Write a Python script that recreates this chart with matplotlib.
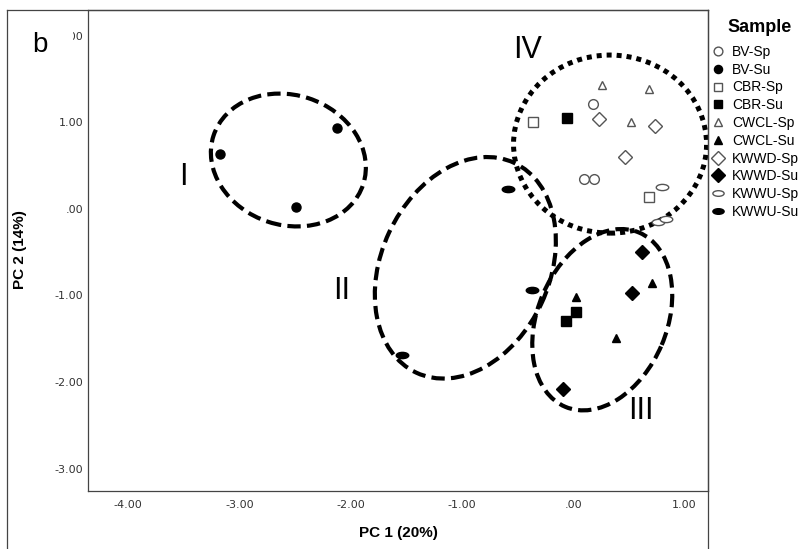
import matplotlib
matplotlib.use("Agg")
import matplotlib.pyplot as plt
from matplotlib.patches import Ellipse, Rectangle
from matplotlib.path import Path
from matplotlib.transforms import Affine2D
from matplotlib.lines import Line2D
from matplotlib.ticker import FixedLocator, FuncFormatter

plt.rcParams['font.family'] = ['Liberation Sans', 'DejaVu Sans']

# ---------------- data ----------------
bv_sp_x = [0.18, 0.10, 0.19]
bv_sp_y = [1.21, 0.35, 0.35]
bv_su_x = [-3.17, -2.12, -2.49]
bv_su_y = [0.635, 0.935, 0.02]
cbr_sp_x = [-0.36, 0.68]
cbr_sp_y = [1.00, 0.135]
cbr_su_x = [-0.06, 0.02, -0.07]
cbr_su_y = [1.05, -1.19, -1.29]
cwcl_sp_x = [0.26, 0.68, 0.52]
cwcl_sp_y = [1.43, 1.39, 1.00]
cwcl_su_x = [0.71, 0.02, 0.38]
cwcl_su_y = [-0.85, -1.02, -1.49]
kwwd_sp_x = [0.23, 0.73, 0.46]
kwwd_sp_y = [1.04, 0.96, 0.60]
kwwd_su_x = [0.62, 0.53, -0.09]
kwwd_su_y = [-0.50, -0.97, -2.08]
kwwu_sp_x = [0.80, 0.76, 0.83]
kwwu_sp_y = [0.25, -0.15, -0.12]
kwwu_su_x = [-0.59, -0.37, -1.54]
kwwu_su_y = [0.23, -0.94, -1.69]

x_ticks = [-4, -3, -2, -1, 0, 1]
y_ticks = [-3, -2, -1, 0, 1, 2]
x_lim = (-4.36, 1.21)
y_lim = (-3.26, 2.30)

# cluster ellipses: label, label position, centre, width, height, angle
cluster_labels = ['I', 'II', 'III', 'IV']
cluster_label_x = [-3.50, -2.08, 0.61, -0.41]
cluster_label_y = [0.37, -0.95, -2.33, 1.84]
cluster_cx = [-2.56, -0.97, 0.26, 0.33]
cluster_cy = [0.566, -0.68, -1.28, 0.75]
cluster_w = [1.414, 2.08, 1.70, 1.734]
cluster_h = [1.168, 1.51, 1.16, 1.60]
cluster_ang = [-18, 65, 67, 0]
cluster_dotted = [False, False, False, True]

# ---------------- figure ----------------
W, H = 804, 549
fig = plt.figure(figsize=(W / 100, H / 100), dpi=100)
ax_l, ax_r, ax_t, ax_b = 88, 708, 10, 491
ax = fig.add_axes([ax_l / W, 1 - ax_b / H, (ax_r - ax_l) / W, (ax_b - ax_t) / H])
ax.set_xlim(*x_lim)
ax.set_ylim(*y_lim)

ell_path = Path.unit_circle().transformed(Affine2D().scale(1, 0.5))
open_c = '#555555'

series = [
    ('BV-Sp', bv_sp_x, bv_sp_y, 'o', 7.0, 'white', open_c),
    ('BV-Su', bv_su_x, bv_su_y, 'o', 6.5, 'black', 'black'),
    ('CBR-Sp', cbr_sp_x, cbr_sp_y, 's', 7.0, 'white', open_c),
    ('CBR-Su', cbr_su_x, cbr_su_y, 's', 7.0, 'black', 'black'),
    ('CWCL-Sp', cwcl_sp_x, cwcl_sp_y, '^', 6.0, 'white', open_c),
    ('CWCL-Su', cwcl_su_x, cwcl_su_y, '^', 6.0, 'black', 'black'),
    ('KWWD-Sp', kwwd_sp_x, kwwd_sp_y, 'D', 7.5, 'white', open_c),
    ('KWWD-Su', kwwd_su_x, kwwd_su_y, 'D', 7.5, 'black', 'black'),
    ('KWWU-Sp', kwwu_sp_x, kwwu_sp_y, ell_path, 9.0, 'white', open_c),
    ('KWWU-Su', kwwu_su_x, kwwu_su_y, ell_path, 9.0, 'black', 'black'),
]

handles = []
for name, xs, ys, mk, ms, fc, ec in series:
    ax.plot(xs, ys, ls='none', marker=mk, ms=ms, mfc=fc, mec=ec, mew=1.0, zorder=3, clip_on=False)
    handles.append(Line2D([], [], ls='none', marker=mk, ms=ms * 0.9, mfc=fc, mec=ec, mew=1.0, label=name))

# ellipses drawn in an isotropic frame (x data units both ways)
pos = ax.get_position()
k = ((y_lim[1] - y_lim[0]) / (pos.height * H)) / ((x_lim[1] - x_lim[0]) / (pos.width * W))
for cx, cy, w, h, a, dot in zip(cluster_cx, cluster_cy, cluster_w, cluster_h, cluster_ang, cluster_dotted):
    if dot:
        kw = dict(lw=3.6, linestyle=(0, (1, 1.0)))
    else:
        kw = dict(lw=3.0, linestyle=(0, (3.2, 1.5)))
    e = Ellipse((0, 0), w, h, angle=a, fill=False, edgecolor='black', capstyle='butt', clip_on=False, zorder=2, **kw)
    e.set_transform(Affine2D().scale(1, k).translate(cx, cy) + ax.transData)
    ax.add_patch(e)

for lab, lx, ly in zip(cluster_labels, cluster_label_x, cluster_label_y):
    ax.text(lx, ly, lab, fontsize=22, ha='center', va='center', color='black')

# axes styling
def fmt(v, _):
    s = f"{v:.2f}"
    if s in ('0.00', '-0.00'):
        s = '.00'
    return s

ax.xaxis.set_major_locator(FixedLocator(x_ticks))
ax.yaxis.set_major_locator(FixedLocator(y_ticks))
ax.xaxis.set_major_formatter(FuncFormatter(fmt))
ax.yaxis.set_major_formatter(FuncFormatter(fmt))
ax.tick_params(length=0, labelsize=8, labelcolor='#333333')
ax.tick_params(axis='x', pad=6.5)
ax.tick_params(axis='y', pad=3.6)
for lbl in ax.get_xticklabels() + ax.get_yticklabels():
    lbl.set_fontfamily('DejaVu Sans')
for s in ax.spines.values():
    s.set_color('#444444')
    s.set_linewidth(0.9)

fig.text(398 / W, 1 - 533 / H, 'PC 1 (20%)', ha='center', va='center', fontsize=11, fontweight='bold')
fig.text(20 / W, 1 - 250 / H, 'PC 2 (14%)', ha='center', va='center', fontsize=11, fontweight='bold', rotation=90)

# outer frame
fc_ = '#444444'
fig.add_artist(Line2D([7 / W, 708 / W], [1 - 10 / H, 1 - 10 / H], transform=fig.transFigure, color=fc_, lw=0.9))
fig.add_artist(Line2D([7 / W, 7 / W], [0, 1 - 10 / H], transform=fig.transFigure, color=fc_, lw=0.9))
fig.add_artist(Line2D([708 / W, 708 / W], [0, 1 - 10 / H], transform=fig.transFigure, color=fc_, lw=0.9))

# panel letter covering part of the top tick label
fig.add_artist(Rectangle((9 / W, 1 - 62 / H), 64 / W, 48 / H, transform=fig.transFigure,
                         facecolor='white', edgecolor='none', zorder=5))
fig.text(40 / W, 1 - 45 / H, 'b', fontsize=20, ha='center', va='center', zorder=6)

# legend
fig.text(760 / W, 1 - 27 / H, 'Sample', ha='center', va='center', fontsize=13, fontweight='bold')
leg = fig.legend(handles=handles, loc='upper left', bbox_to_anchor=(712.5 / W, 1 - 45 / H),
                 frameon=False, fontsize=10, handlelength=0.8, handletextpad=0.6,
                 labelspacing=0.27, borderpad=0, borderaxespad=0)

fig.savefig('out.png', dpi=100)
